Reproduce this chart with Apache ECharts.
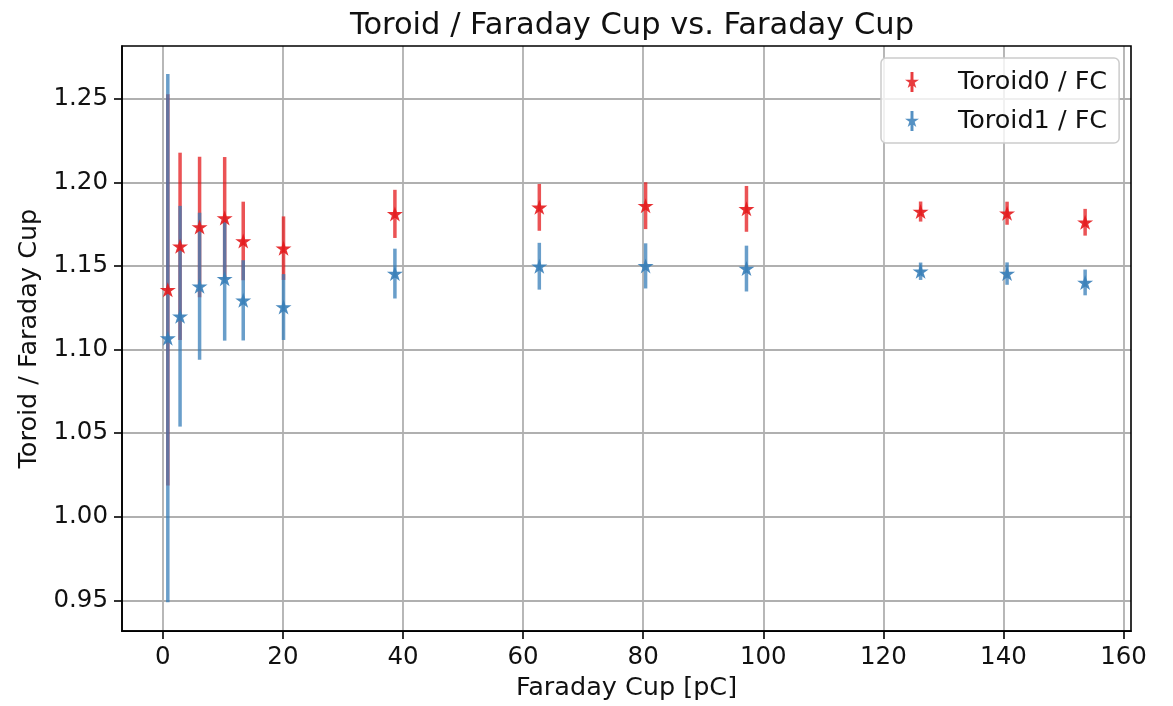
<!DOCTYPE html>
<html>
<head>
<meta charset="utf-8">
<title>Toroid / Faraday Cup</title>
<script src="https://cdn.jsdelivr.net/npm/echarts@6/dist/echarts.min.js"></script>
<style>
  html, body { margin: 0; padding: 0; background: #fff; }
  #main { width: 1173px; height: 706px; }
</style>
</head>
<body>
<div id="main"></div>
<script>
// x: Faraday Cup charge [pC]
var fc = [0.83, 2.87, 6.12, 10.3, 13.39, 20.1, 38.65, 62.7, 80.4, 97.2, 126.2, 140.6, 153.6];
// Toroid0 / FC and its error
var t0 = [1.1357, 1.1617, 1.1733, 1.1786, 1.1649, 1.1606, 1.1811, 1.185, 1.186, 1.1841, 1.1825, 1.1815, 1.1761];
var t0Err = [0.117, 0.056, 0.042, 0.0365, 0.0235, 0.019, 0.0144, 0.014, 0.014, 0.0137, 0.006, 0.0069, 0.008];
// Toroid1 / FC and its error
var t1 = [1.1068, 1.1199, 1.1378, 1.1423, 1.1294, 1.1254, 1.1454, 1.1498, 1.15, 1.1484, 1.1468, 1.1454, 1.1401];
var t1Err = [0.158, 0.066, 0.044, 0.037, 0.024, 0.0197, 0.0149, 0.014, 0.0135, 0.0137, 0.0052, 0.0067, 0.0077];
// tick labels
var xTicks = [0, 20, 40, 60, 80, 100, 120, 140, 160];
var yTicks = [0.95, 1.00, 1.05, 1.10, 1.15, 1.20, 1.25];

var RED = '#e41a1c', BLUE = '#377eb8';
var FONT = 'DejaVu Sans';
// matplotlib '*' marker
var STAR = 'path://M0,-1L0.2245,-0.309L0.951,-0.309L0.363,0.118L0.588,0.809L0,0.382L-0.588,0.809L-0.363,0.118L-0.951,-0.309L-0.2245,-0.309Z';
// legend handle: star + error bar, with an empty point on the right to widen the handle box
var LEG_ICON = 'path://M-0.2,-1.36L0.2,-1.36L0.2,1.36L-0.2,1.36Z' +
  'M0,-1L0.2245,-0.309L0.951,-0.309L0.363,0.118L0.588,0.809L0,0.382L-0.588,0.809L-0.363,0.118L-0.951,-0.309L-0.2245,-0.309Z' +
  'M5.57,0L5.57,0Z';

function pts(y) {
  return fc.map(function (x, i) { return [x, y[i]]; });
}
function bars(y, e) {
  return fc.map(function (x, i) { return [x, y[i] - e[i], y[i] + e[i]]; });
}
function errRender(color) {
  return function (params, api) {
    var hi = api.coord([api.value(0), api.value(2)]);
    var lo = api.coord([api.value(0), api.value(1)]);
    return {
      type: 'line',
      shape: { x1: hi[0], y1: hi[1], x2: lo[0], y2: lo[1] },
      style: { stroke: color, lineWidth: 3.5, opacity: 0.75 }
    };
  };
}

var myChart = echarts.init(document.getElementById('main'));

var option = {
  backgroundColor: '#fff',
  animation: false,
  title: {
    text: 'Toroid / Faraday Cup vs. Faraday Cup',
    left: 627, top: 6, textAlign: 'center',
    textStyle: { fontFamily: FONT, fontSize: 30.5, fontWeight: 'normal', color: '#111' }
  },
  grid: {
    left: 122, right: 42, top: 46, bottom: 71,
    show: true, borderColor: '#000', borderWidth: 1.6, z: 3
  },
  legend: {
    orient: 'vertical',
    left: 881, top: 58,
    padding: [11, 12, 9, 24],
    itemGap: 13,
    itemWidth: 48, itemHeight: 20,
    backgroundColor: 'rgba(255,255,255,0.8)',
    borderColor: '#cccccc', borderWidth: 1.5, borderRadius: 5,
    textStyle: { fontFamily: FONT, fontSize: 25.5, lineHeight: 26, color: '#111' },
    data: [
      { name: 'Toroid0 / FC', icon: LEG_ICON, itemStyle: { color: RED, opacity: 0.85 } },
      { name: 'Toroid1 / FC', icon: LEG_ICON, itemStyle: { color: BLUE, opacity: 0.85 } }
    ]
  },
  xAxis: {
    type: 'value',
    min: -6.8, max: 161.24,
    name: 'Faraday Cup [pC]',
    nameLocation: 'middle', nameGap: 42,
    nameTextStyle: { fontFamily: FONT, fontSize: 25.5, color: '#111' },
    axisLine: { show: true, onZero: false, lineStyle: { color: '#000', width: 1.6 } },
    axisTick: { show: true, length: 8, lineStyle: { color: '#000', width: 1.6 }, customValues: xTicks },
    axisLabel: { fontFamily: FONT, fontSize: 24.5, color: '#111', margin: 14, customValues: xTicks },
    splitLine: { show: true, lineStyle: { color: '#b0b0b0', width: 1.8 } }
  },
  yAxis: {
    type: 'value',
    min: 0.9316, max: 1.2815,
    name: 'Toroid / Faraday Cup',
    nameLocation: 'middle', nameGap: 75,
    nameTextStyle: { fontFamily: FONT, fontSize: 25.5, color: '#111' },
    axisLine: { show: true, onZero: false, lineStyle: { color: '#000', width: 1.6 } },
    axisTick: { show: true, length: 8, lineStyle: { color: '#000', width: 1.6 }, customValues: yTicks },
    axisLabel: {
      fontFamily: FONT, fontSize: 24.5, color: '#111', margin: 14, customValues: yTicks,
      formatter: function (v) { return v.toFixed(2); }
    },
    splitLine: { show: true, lineStyle: { color: '#b0b0b0', width: 1.8 } }
  },
  series: [
    { // error bars under all markers
      name: 'Toroid0 / FC', type: 'custom', z: 2,
      renderItem: errRender(RED), data: bars(t0, t0Err)
    },
    {
      name: 'Toroid1 / FC', type: 'custom', z: 2,
      renderItem: errRender(BLUE), data: bars(t1, t1Err)
    },
    {
      name: 'Toroid0 / FC', type: 'scatter', z: 4,
      symbol: STAR, symbolSize: [16, 15],
      itemStyle: { color: RED, opacity: 0.9 },
      data: pts(t0)
    },
    {
      name: 'Toroid1 / FC', type: 'scatter', z: 4,
      symbol: STAR, symbolSize: [16, 15],
      itemStyle: { color: BLUE, opacity: 0.9 },
      data: pts(t1)
    }
  ]
};

myChart.setOption(option);
</script>
</body>
</html>
